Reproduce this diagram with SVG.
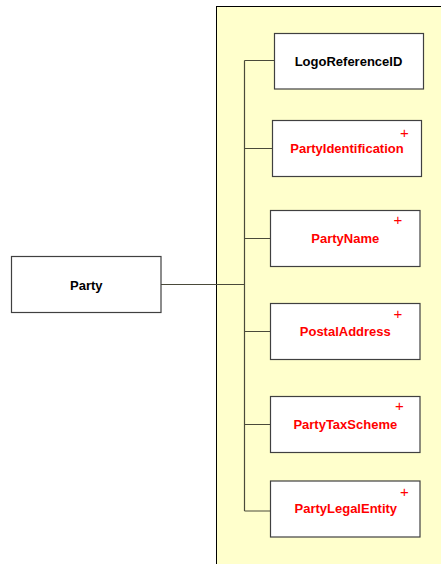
<svg xmlns="http://www.w3.org/2000/svg" width="441" height="564" viewBox="0 0 441 564">
<style>
.box{fill:#fff;stroke:#404040;stroke-width:1.2}
.lbl{font-family:"Liberation Sans",Arial,sans-serif;font-weight:bold;font-size:13px;text-anchor:middle}
.red{fill:#f00}
.blk{fill:#000}
.plus{font-family:"Liberation Sans",Arial,sans-serif;font-size:15px;fill:#f00;text-anchor:middle}
.con{stroke:#4a4a3a;stroke-width:1.2;fill:none}
</style>
<rect x="216.5" y="6.5" width="240" height="570" fill="#ffffcc" stroke="#000" stroke-width="1"/>
<g id="connectors">
<path class="con" d="M161 284.5H244.5M244.5 60.5V511M244.5 60.5H274.5M244.5 148.5H272.5M244.5 238.5H270.5M244.5 331.5H270.5M244.5 424.5H270.5M244.5 511H270.5"/>
</g>
<g id="party">
<rect class="box" x="11.5" y="256.5" width="149.5" height="56"/>
<text class="lbl blk" x="86.3" y="289.5">Party</text>
</g>
<g id="logoReferenceID">
<rect class="box" x="274.5" y="33.5" width="149" height="55.5"/>
<text class="lbl blk" x="348.5" y="65.5">LogoReferenceID</text>
</g>
<g id="partyIdentification">
<rect class="box" x="272.5" y="120.5" width="149" height="56"/>
<text class="lbl red" x="347" y="153">PartyIdentification</text>
<text class="plus" x="404.5" y="138">+</text>
</g>
<g id="partyName">
<rect class="box" x="270.5" y="210.5" width="149.5" height="56"/>
<text class="lbl red" x="345.3" y="243">PartyName</text>
<text class="plus" x="398" y="224.5">+</text>
</g>
<g id="postalAddress">
<rect class="box" x="270.5" y="303.5" width="149.5" height="56"/>
<text class="lbl red" x="345.3" y="336">PostalAddress</text>
<text class="plus" x="398" y="319">+</text>
</g>
<g id="partyTaxScheme">
<rect class="box" x="270.5" y="396.5" width="149.5" height="56"/>
<text class="lbl red" x="345.3" y="429">PartyTaxScheme</text>
<text class="plus" x="399.5" y="410.5">+</text>
</g>
<g id="partyLegalEntity">
<rect class="box" x="270.5" y="481" width="149.5" height="56"/>
<text class="lbl red" x="345.8" y="512.5">PartyLegalEntity</text>
<text class="plus" x="404.5" y="496.5">+</text>
</g>
</svg>
